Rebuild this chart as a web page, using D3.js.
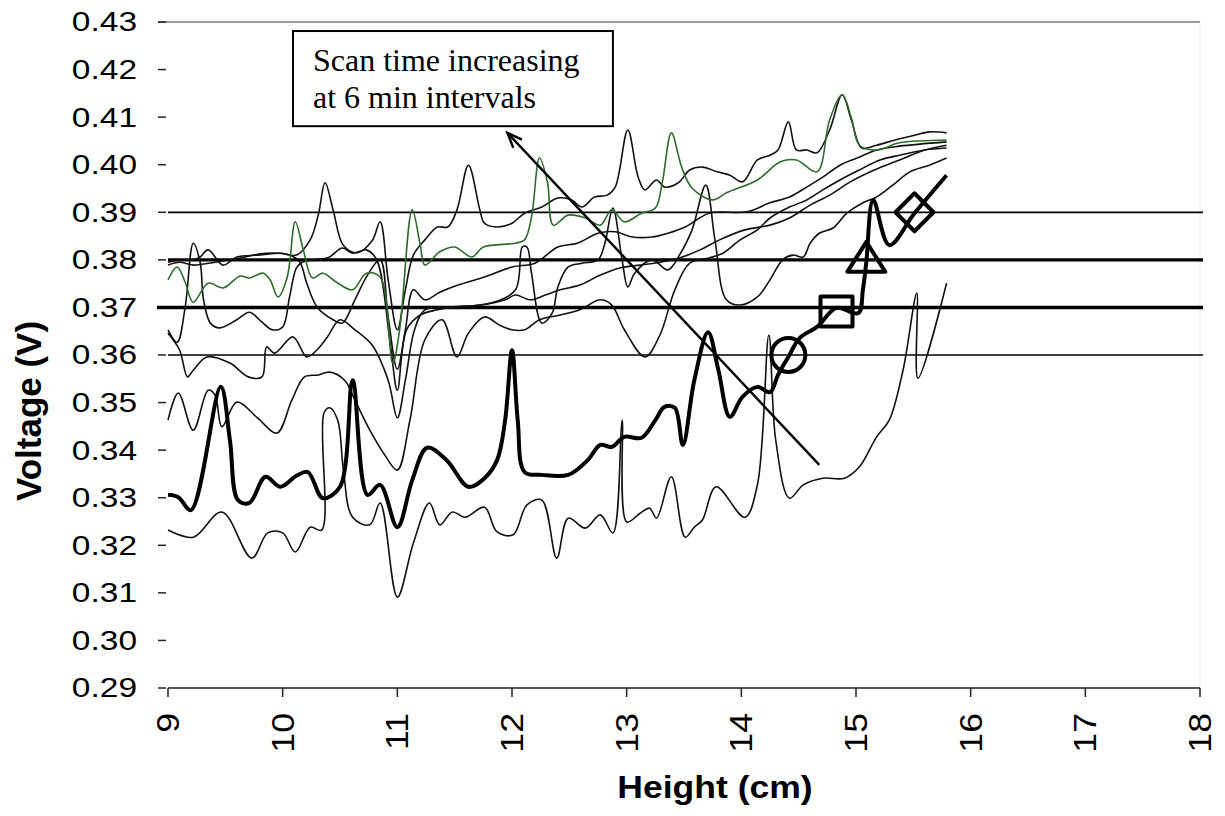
<!DOCTYPE html>
<html>
<head>
<meta charset="utf-8">
<script src="https://cdn.jsdelivr.net/npm/d3@7/dist/d3.min.js"></script>
<style>
  body { margin: 0; background: #fff; }
  svg { display: block; }
</style>
</head>
<body>
<div id="chart"></div>
<script>
// axis ticks
var yTicks = [0.29, 0.30, 0.31, 0.32, 0.33, 0.34, 0.35, 0.36, 0.37, 0.38, 0.39, 0.40, 0.41, 0.42, 0.43];
var xTicks = [9, 10, 11, 12, 13, 14, 15, 16, 17, 18];

// horizontal reference levels (V)
var thresholdVolts = [0.36, 0.37, 0.38, 0.39];

// scans, [height cm, voltage V]
var scanLowest = [[9.00,0.3232],[9.22,0.3217],[9.47,0.3270],[9.73,0.3173],[9.87,0.3226],[10.00,0.3226],[10.11,0.3186],[10.24,0.3238],[10.34,0.3232],[10.36,0.3478],[10.41,0.3489],[10.48,0.3463],[10.53,0.3358],[10.61,0.3259],[10.76,0.3243],[10.85,0.3289],[11.00,0.3091],[11.14,0.3205],[11.28,0.3289],[11.37,0.3243],[11.48,0.3270],[11.59,0.3259],[11.76,0.3280],[11.87,0.3228],[12.01,0.3222],[12.13,0.3285],[12.26,0.3295],[12.39,0.3173],[12.49,0.3257],[12.64,0.3236],[12.77,0.3264],[12.88,0.3226],[12.96,0.3463],[13.00,0.3249],[13.12,0.3268],[13.20,0.3278],[13.26,0.3257],[13.39,0.3344],[13.51,0.3217],[13.59,0.3238],[13.66,0.3253],[13.78,0.3323],[14.03,0.3259],[14.14,0.3327],[14.24,0.3642],[14.30,0.3421],[14.42,0.3299],[14.54,0.3327],[14.71,0.3341],[14.90,0.3341],[15.03,0.3365],[15.18,0.3428],[15.29,0.3463],[15.41,0.3568],[15.53,0.3730],[15.54,0.3551],[15.79,0.3751]];

var scanSecond = [[9.00,0.3463],[9.09,0.3520],[9.22,0.3442],[9.35,0.3526],[9.41,0.3516],[9.47,0.3449],[9.60,0.3501],[9.78,0.3468],[9.95,0.3436],[10.08,0.3505],[10.19,0.3554],[10.31,0.3558],[10.41,0.3564],[10.54,0.3547],[10.63,0.3505],[10.76,0.3442],[10.89,0.3390],[11.00,0.3358],[11.11,0.3463],[11.24,0.3632],[11.39,0.3674],[11.52,0.3596],[11.62,0.3646],[11.76,0.3680],[11.89,0.3663],[12.00,0.3653],[12.11,0.3653],[12.24,0.3674],[12.42,0.3684],[12.59,0.3695],[12.77,0.3716],[12.87,0.3705],[12.98,0.3653],[13.16,0.3596],[13.29,0.3642],[13.42,0.3737],[13.55,0.3793],[13.72,0.3804],[13.84,0.3814],[13.99,0.3842],[14.14,0.3863],[14.25,0.3888],[14.42,0.3911],[14.57,0.3926],[14.71,0.3947],[14.86,0.3968],[15.03,0.3989],[15.21,0.4010],[15.38,0.4020],[15.60,0.4031],[15.79,0.4035]];

var scanThird = [[9.00,0.3646],[9.10,0.3611],[9.17,0.3554],[9.22,0.3568],[9.34,0.3596],[9.54,0.3583],[9.70,0.3554],[9.82,0.3554],[9.86,0.3617],[9.93,0.3604],[10.09,0.3638],[10.21,0.3596],[10.30,0.3611],[10.39,0.3638],[10.50,0.3674],[10.63,0.3653],[10.78,0.3621],[10.92,0.3547],[11.00,0.3468],[11.07,0.3547],[11.15,0.3653],[11.24,0.3695],[11.46,0.3701],[11.72,0.3705],[11.94,0.3716],[12.03,0.3726],[12.16,0.3716],[12.29,0.3726],[12.42,0.3737],[12.59,0.3747],[12.77,0.3768],[12.94,0.3783],[13.12,0.3789],[13.29,0.3795],[13.46,0.3804],[13.64,0.3821],[13.81,0.3842],[14.03,0.3863],[14.25,0.3873],[14.42,0.3888],[14.60,0.3915],[14.77,0.3936],[14.95,0.3964],[15.16,0.3989],[15.38,0.4010],[15.60,0.4031],[15.79,0.4041]];

var scanFourth = [[9.00,0.3653],[9.08,0.3627],[9.15,0.3701],[9.22,0.3835],[9.28,0.3795],[9.31,0.3716],[9.37,0.3667],[9.45,0.3657],[9.60,0.3674],[9.71,0.3690],[9.82,0.3669],[9.91,0.3653],[10.00,0.3659],[10.06,0.3722],[10.12,0.3783],[10.17,0.3795],[10.26,0.3800],[10.40,0.3805],[10.52,0.3825],[10.61,0.3814],[10.73,0.3821],[10.82,0.3800],[10.94,0.3620],[11.00,0.3526],[11.08,0.3653],[11.20,0.3684],[11.35,0.3695],[11.50,0.3701],[11.81,0.3709],[12.03,0.3737],[12.09,0.3827],[12.13,0.3827],[12.17,0.3772],[12.26,0.3667],[12.35,0.3688],[12.40,0.3743],[12.49,0.3785],[12.61,0.3793],[12.75,0.3800],[12.81,0.3835],[12.88,0.3909],[12.96,0.3800],[13.01,0.3743],[13.07,0.3772],[13.22,0.3800],[13.36,0.3779],[13.46,0.3810],[13.57,0.3863],[13.69,0.3957],[13.77,0.3842],[13.87,0.3716],[13.99,0.3705],[14.14,0.3722],[14.25,0.3758],[14.36,0.3800],[14.45,0.3810],[14.54,0.3806],[14.60,0.3835],[14.68,0.3856],[14.80,0.3867],[14.92,0.3898],[15.06,0.3920],[15.18,0.3932],[15.32,0.3957],[15.47,0.3985],[15.64,0.3999],[15.79,0.4014]];

var scanFifth = [[9.00,0.3789],[9.10,0.3795],[9.22,0.3789],[9.41,0.3795],[9.63,0.3804],[9.85,0.3814],[10.06,0.3810],[10.15,0.3795],[10.21,0.3751],[10.30,0.3701],[10.44,0.3674],[10.52,0.3667],[10.63,0.3716],[10.74,0.3768],[10.85,0.3800],[10.92,0.3680],[11.00,0.3570],[11.07,0.3653],[11.14,0.3737],[11.24,0.3716],[11.37,0.3732],[11.53,0.3747],[11.76,0.3764],[12.00,0.3785],[12.20,0.3793],[12.40,0.3827],[12.57,0.3835],[12.75,0.3856],[12.90,0.3859],[13.05,0.3848],[13.22,0.3848],[13.36,0.3856],[13.51,0.3869],[13.72,0.3898],[14.05,0.3901],[14.25,0.3920],[14.42,0.3932],[14.57,0.3953],[14.71,0.3974],[14.86,0.3999],[15.01,0.4014],[15.18,0.4031],[15.38,0.4039],[15.79,0.4048]];

var scanGreen = [[9.00,0.3758],[9.08,0.3785],[9.15,0.3753],[9.22,0.3711],[9.35,0.3751],[9.48,0.3741],[9.63,0.3766],[9.71,0.3762],[9.83,0.3772],[9.89,0.3758],[9.96,0.3722],[10.04,0.3764],[10.11,0.3880],[10.18,0.3821],[10.26,0.3762],[10.35,0.3772],[10.47,0.3753],[10.61,0.3737],[10.73,0.3772],[10.85,0.3764],[10.96,0.3583],[11.02,0.3653],[11.13,0.3905],[11.20,0.3831],[11.24,0.3789],[11.37,0.3817],[11.50,0.3827],[11.65,0.3806],[11.75,0.3827],[12.03,0.3835],[12.11,0.3842],[12.17,0.3890],[12.24,0.4014],[12.31,0.3962],[12.36,0.3873],[12.49,0.3894],[12.64,0.3888],[12.77,0.3873],[12.87,0.3905],[12.98,0.3880],[13.13,0.3898],[13.25,0.3909],[13.31,0.3962],[13.39,0.4067],[13.48,0.3995],[13.57,0.3951],[13.75,0.3926],[13.87,0.3941],[14.14,0.3968],[14.34,0.4006],[14.48,0.4010],[14.66,0.3985],[14.77,0.4094],[14.88,0.4147],[14.96,0.4098],[15.03,0.4041],[15.18,0.4031],[15.38,0.4046],[15.79,0.4052]];

var scanTop = [[9.00,0.3795],[9.10,0.3800],[9.22,0.3800],[9.28,0.3806],[9.35,0.3821],[9.48,0.3789],[9.60,0.3806],[9.78,0.3810],[9.98,0.3814],[10.12,0.3810],[10.24,0.3842],[10.31,0.3894],[10.37,0.3962],[10.44,0.3905],[10.53,0.3830],[10.65,0.3815],[10.78,0.3840],[10.85,0.3880],[10.92,0.3758],[11.00,0.3653],[11.07,0.3737],[11.14,0.3810],[11.24,0.3842],[11.35,0.3869],[11.44,0.3869],[11.52,0.3905],[11.62,0.3999],[11.72,0.3905],[11.76,0.3877],[11.88,0.3869],[12.00,0.3877],[12.11,0.3898],[12.26,0.3911],[12.40,0.3930],[12.52,0.3926],[12.61,0.3911],[12.72,0.3932],[12.83,0.3936],[12.90,0.3953],[13.01,0.4073],[13.10,0.3974],[13.16,0.3947],[13.26,0.3968],[13.33,0.3953],[13.45,0.3962],[13.55,0.3989],[13.66,0.3995],[13.79,0.3985],[13.90,0.3978],[14.01,0.3964],[14.14,0.4010],[14.25,0.4020],[14.32,0.4031],[14.41,0.4090],[14.48,0.4031],[14.57,0.4031],[14.66,0.4025],[14.77,0.4073],[14.88,0.4147],[14.96,0.4094],[15.05,0.4035],[15.18,0.4041],[15.34,0.4052],[15.51,0.4062],[15.64,0.4069],[15.79,0.4067]];

// first scan, drawn heavy
var scanFirst = [[9.00,0.3306],[9.09,0.3301],[9.20,0.3274],[9.46,0.3533],[9.54,0.3421],[9.61,0.3295],[9.71,0.3289],[9.85,0.3344],[9.98,0.3323],[10.12,0.3346],[10.22,0.3354],[10.35,0.3299],[10.50,0.3323],[10.61,0.3547],[10.74,0.3306],[10.85,0.3327],[11.00,0.3238],[11.13,0.3337],[11.26,0.3405],[11.43,0.3379],[11.62,0.3323],[11.76,0.3341],[11.87,0.3379],[11.94,0.3463],[12.00,0.3610],[12.05,0.3463],[12.11,0.3354],[12.26,0.3348],[12.49,0.3348],[12.66,0.3379],[12.77,0.3411],[12.87,0.3407],[12.98,0.3428],[13.13,0.3426],[13.25,0.3463],[13.33,0.3491],[13.42,0.3489],[13.49,0.3411],[13.59,0.3547],[13.71,0.3648],[13.80,0.3568],[13.90,0.3470],[14.01,0.3512],[14.14,0.3533],[14.25,0.3522],[14.32,0.3558],[14.41,0.3596],[14.51,0.3636],[14.66,0.3659],[14.83,0.3699],[15.02,0.3688],[15.06,0.3737],[15.09,0.3795],[15.15,0.3926],[15.29,0.3831],[15.51,0.3898],[15.79,0.3978]];

// symbols where the heavy scan crosses each level
var markerHeights = [14.41, 14.83, 15.09, 15.51];
var markerVolts = [0.36, 0.37, 0.38, 0.39];
var markerShapes = ["circle", "square", "triangle", "diamond"];

// annotation
var noteLines = ["Scan time increasing", "at 6 min intervals"];
var noteBox = {left: 10.09, right: 12.88, top: 0.4281, bottom: 0.4081};
var arrowFrom = [14.68, 0.3369];
var arrowTo = [11.96, 0.4067];

var W = 1225, H = 816;
var plotLeft = 168, plotRight = 1200, plotTop = 22, plotBottom = 688;

var x = d3.scaleLinear().domain([9, 18]).range([plotLeft, plotRight]);
var y = d3.scaleLinear().domain([0.29, 0.43]).range([plotBottom, plotTop]);

var svg = d3.select("#chart").append("svg")
  .attr("width", W)
  .attr("height", H)
  .style("background", "#fff");

var sans = "'Liberation Sans', Arial, Helvetica, sans-serif";

// faint plot edge
svg.append("line")
  .attr("x1", plotRight).attr("x2", plotRight)
  .attr("y1", plotTop).attr("y2", plotBottom)
  .attr("stroke", "#f0f0f0").attr("stroke-width", 1.5);

// top border line (0.43)
svg.append("line")
  .attr("x1", plotLeft - 10).attr("x2", plotRight)
  .attr("y1", y(0.43)).attr("y2", y(0.43))
  .attr("stroke", "#9a9a9a").attr("stroke-width", 2);

// bottom axis line
svg.append("line")
  .attr("x1", plotLeft).attr("x2", plotRight)
  .attr("y1", y(0.29)).attr("y2", y(0.29))
  .attr("stroke", "#555").attr("stroke-width", 2);

// y ticks and labels
svg.append("g").selectAll("line")
  .data(yTicks)
  .join("line")
  .attr("x1", plotLeft - 10).attr("x2", plotLeft - 2)
  .attr("y1", d => y(d)).attr("y2", d => y(d))
  .attr("stroke", "#222").attr("stroke-width", 1.5);

svg.append("g").selectAll("text")
  .data(yTicks)
  .join("text")
  .attr("transform", d => "translate(137," + y(d) + ") scale(1.24,1)")
  .attr("dy", "0.35em")
  .attr("text-anchor", "end")
  .style("font-family", sans)
  .style("font-size", "27px")
  .style("fill", "#000")
  .text(d => d3.format(".2f")(d));

// x ticks and labels
svg.append("g").selectAll("line")
  .data(xTicks)
  .join("line")
  .attr("x1", d => x(d)).attr("x2", d => x(d))
  .attr("y1", plotBottom).attr("y2", plotBottom + 9)
  .attr("stroke", "#222").attr("stroke-width", 1.5);

svg.append("g").selectAll("text")
  .data(xTicks)
  .join("text")
  .attr("transform", d => "translate(" + x(d) + "," + (plotBottom + 25) + ") rotate(-90) scale(1.15,1)")
  .attr("dy", "0.35em")
  .attr("text-anchor", "end")
  .style("font-family", sans)
  .style("font-size", "31px")
  .style("fill", "#000")
  .text(d => d);

// axis titles
svg.append("text")
  .attr("transform", "translate(" + ((plotLeft + plotRight) / 2 + 31) + ",798) scale(1.11,1)")
  .attr("text-anchor", "middle")
  .style("font-family", sans)
  .style("font-size", "32px")
  .style("font-weight", "bold")
  .style("fill", "#000")
  .text("Height (cm)");

svg.append("text")
  .attr("transform", "translate(41," + ((plotTop + plotBottom) / 2 + 56) + ") rotate(-90)")
  .attr("text-anchor", "middle")
  .style("font-family", sans)
  .style("font-size", "35px")
  .style("font-weight", "bold")
  .style("fill", "#000")
  .text("Voltage (V)");

// reference levels: 0.37 and 0.38 are heavy
svg.append("g").selectAll("line")
  .data(thresholdVolts)
  .join("line")
  .attr("x1", d => d === 0.37 ? plotLeft - 11 : plotLeft)
  .attr("x2", plotRight + 3)
  .attr("y1", d => y(d)).attr("y2", d => y(d))
  .attr("stroke", "#000")
  .attr("stroke-width", d => (d === 0.37 || d === 0.38) ? 3.4 : 1.7);

var line = d3.line()
  .x(d => x(d[0]))
  .y(d => y(d[1]))
  .curve(d3.curveCatmullRom.alpha(0.5));

// thin scans
var thinScans = [scanLowest, scanSecond, scanThird, scanFourth, scanFifth, scanTop];
svg.append("g")
  .selectAll("path")
  .data(thinScans)
  .join("path")
  .attr("d", line)
  .attr("fill", "none")
  .attr("stroke", "#111")
  .attr("stroke-width", 1.6)
  .attr("stroke-linejoin", "round");

svg.append("path")
  .datum(scanGreen)
  .attr("d", line)
  .attr("fill", "none")
  .attr("stroke", "#2f6b2f")
  .attr("stroke-width", 1.6);

// heavy scan
svg.append("path")
  .datum(scanFirst)
  .attr("d", line)
  .attr("fill", "none")
  .attr("stroke", "#000")
  .attr("stroke-width", 4)
  .attr("stroke-linejoin", "round");

// open symbols
function shapePath(s) {
  if (s === "circle") return "M17,0 A17,17 0 1,1 -17,0 A17,17 0 1,1 17,0 Z";
  if (s === "square") return "M-16,-11 L16,-11 L16,19 L-16,19 Z";
  if (s === "triangle") return "M0,-18 L19,12 L-19,12 Z";
  return "M0,-19 L19,0 L0,19 L-19,0 Z";
}

svg.append("g").selectAll("path")
  .data(markerShapes)
  .join("path")
  .attr("transform", (d, i) => "translate(" + x(markerHeights[i]) + "," + y(markerVolts[i]) + ")")
  .attr("d", d => shapePath(d))
  .attr("fill", "none")
  .attr("stroke", "#000")
  .attr("stroke-width", 4)
  .attr("stroke-linejoin", "round");

// annotation box
var bx = x(noteBox.left), by = y(noteBox.top);
svg.append("rect")
  .attr("x", bx).attr("y", by)
  .attr("width", x(noteBox.right) - bx)
  .attr("height", y(noteBox.bottom) - by)
  .attr("fill", "#fff")
  .attr("stroke", "#000")
  .attr("stroke-width", 2);

svg.append("g").selectAll("text")
  .data(noteLines)
  .join("text")
  .attr("x", bx + 20)
  .attr("y", (d, i) => by + 40 + i * 37)
  .style("font-family", "'Liberation Serif', 'Times New Roman', serif")
  .style("font-size", "32px")
  .style("fill", "#000")
  .text(d => d);

// arrow pointing toward later scans
var ax1 = x(arrowFrom[0]), ay1 = y(arrowFrom[1]);
var ax2 = x(arrowTo[0]), ay2 = y(arrowTo[1]);
svg.append("line")
  .attr("x1", ax1).attr("y1", ay1)
  .attr("x2", ax2).attr("y2", ay2)
  .attr("stroke", "#000").attr("stroke-width", 2.4);

var ang = Math.atan2(ay1 - ay2, ax1 - ax2);
var head = [ang - 0.38, ang + 0.38].map(a => [ax2 + 16 * Math.cos(a), ay2 + 16 * Math.sin(a)]);
svg.append("path")
  .attr("d", "M" + head[0][0] + "," + head[0][1] + " L" + ax2 + "," + ay2 + " L" + head[1][0] + "," + head[1][1])
  .attr("fill", "none")
  .attr("stroke", "#000")
  .attr("stroke-width", 2.4);
</script>
</body>
</html>
